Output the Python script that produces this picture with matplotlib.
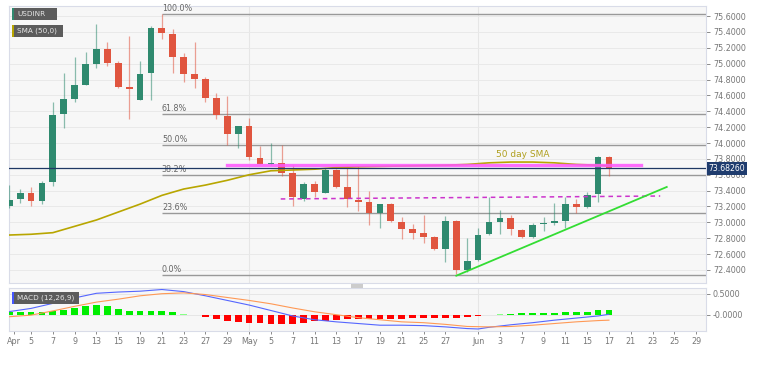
import numpy as np
import matplotlib.pyplot as plt
from matplotlib.patches import Rectangle

# USD/INR daily candles, 1 Apr - 17 Jun (weekdays only)
opens = [73.206, 73.294, 73.370, 73.269, 73.509, 74.365, 74.554, 74.731, 74.995, 75.184,
         75.008, 74.706, 74.542, 74.882, 75.449, 75.373, 75.083, 74.869, 74.806, 74.567,
         74.340, 74.113, 74.214, 73.811, 73.735, 73.748, 73.622, 73.294, 73.484, 73.370,
         73.660, 73.446, 73.282, 73.257, 73.118, 73.231, 73.005, 72.917, 72.866, 72.816,
         72.665, 73.017, 72.400, 72.526, 72.854, 73.005, 73.055, 72.904, 72.816, 72.980,
         72.992, 73.017, 73.231, 73.194, 73.357, 73.824]
highs = [73.471, 73.420, 73.446, 73.521, 74.517, 74.882, 75.083, 75.146, 75.499, 75.272,
         75.033, 75.348, 75.033, 75.474, 75.625, 75.436, 75.134, 75.272, 74.831, 74.630,
         74.592, 74.214, 74.315, 73.962, 74.000, 73.975, 73.723, 73.509, 73.521, 73.685,
         73.672, 73.710, 73.710, 73.395, 73.231, 73.244, 73.068, 72.980, 73.093, 72.829,
         73.080, 73.030, 72.803, 72.929, 73.320, 73.156, 73.093, 72.917, 72.992, 73.068,
         73.244, 73.320, 73.294, 73.383, 73.836, 73.836]
lows = [73.181, 73.244, 73.206, 73.231, 73.458, 74.189, 74.517, 74.731, 74.945, 74.970,
        74.693, 74.302, 74.542, 74.542, 75.310, 74.882, 74.768, 74.693, 74.517, 74.302,
        73.975, 73.937, 73.786, 73.735, 73.723, 73.584, 73.206, 73.269, 73.320, 73.370,
        73.433, 73.194, 73.143, 72.967, 72.929, 73.005, 72.790, 72.790, 72.740, 72.652,
        72.501, 72.350, 72.375, 72.513, 72.841, 72.854, 72.841, 72.803, 72.803, 72.891,
        72.967, 72.929, 73.118, 73.181, 73.257, 73.584]
closes = [73.282, 73.370, 73.269, 73.496, 74.353, 74.554, 74.731, 74.995, 75.184, 75.008,
          74.706, 74.680, 74.869, 75.449, 75.386, 75.083, 74.869, 74.806, 74.567, 74.353,
          74.113, 74.214, 73.824, 73.735, 73.748, 73.622, 73.320, 73.484, 73.383, 73.660,
          73.446, 73.294, 73.257, 73.118, 73.231, 73.017, 72.917, 72.866, 72.816, 72.665,
          73.017, 72.400, 72.513, 72.841, 73.005, 73.055, 72.917, 72.816, 72.967, 72.992,
          73.017, 73.231, 73.194, 73.345, 73.824, 73.683]

# 50 day SMA
sma_idx = [-0.1, 2, 4, 6, 8, 10, 12, 14, 16, 18, 20, 22, 24, 26, 28, 30, 32, 34, 36,
           38, 40, 42, 44, 46, 48, 50, 52, 54, 55]
sma_val = [72.84, 72.85, 72.87, 72.95, 73.03, 73.13, 73.23, 73.34, 73.42, 73.47, 73.53,
           73.60, 73.65, 73.66, 73.67, 73.69, 73.70, 73.705, 73.71, 73.715, 73.72, 73.73,
           73.75, 73.76, 73.76, 73.75, 73.73, 73.72, 73.71]

# MACD (12,26,9)
hist_val = [0.06, 0.06, 0.06, 0.06, 0.08, 0.12, 0.17, 0.20, 0.22, 0.20,
            0.14, 0.10, 0.08, 0.08, 0.08, 0.055, 0.015, -0.01, -0.05, -0.10,
            -0.15, -0.17, -0.19, -0.20, -0.21, -0.21, -0.21, -0.20, -0.16, -0.14,
            -0.12, -0.11, -0.11, -0.11, -0.11, -0.10, -0.10, -0.09, -0.085, -0.075,
            -0.07, -0.07, -0.055, -0.04, -0.01, 0.012, 0.025, 0.03, 0.04, 0.045,
            0.045, 0.06, 0.06, 0.075, 0.11, 0.12]
macd_idx = [-0.1, 2, 4, 6, 8, 10, 12, 14, 16, 18, 20, 22, 24, 26, 28, 30, 32, 34, 36,
            38, 40, 42, 43, 44, 46, 48, 50, 52, 54, 55]
macd_val = [0.07, 0.15, 0.27, 0.40, 0.51, 0.54, 0.56, 0.60, 0.55, 0.45, 0.34, 0.23, 0.10,
            -0.03, -0.12, -0.17, -0.21, -0.25, -0.25, -0.26, -0.29, -0.33, -0.34, -0.30,
            -0.24, -0.19, -0.13, -0.08, -0.03, 0.01]
sig_idx = [-0.1, 2, 4, 6, 8, 10, 12, 14, 16, 18, 20, 22, 24, 26, 28, 30, 32, 34, 36,
           38, 40, 42, 44, 46, 48, 50, 52, 54, 55]
sig_val = [-0.05, -0.01, 0.09, 0.20, 0.30, 0.37, 0.45, 0.50, 0.52, 0.48, 0.41, 0.34, 0.26,
           0.16, 0.07, 0.0, -0.07, -0.12, -0.17, -0.19, -0.23, -0.28, -0.29, -0.28, -0.25,
           -0.21, -0.17, -0.14, -0.13]

tick_pos = [0.45, 2, 4, 6, 8, 10, 12, 14, 16, 18, 20, 22, 24, 26, 28, 30, 32, 34, 36, 38, 40,
            43, 45, 47, 49, 51, 53, 55, 57, 59, 61, 63]
tick_lab = ["Apr", "5", "7", "9", "13", "15", "19", "21", "23", "27", "29", "May", "5", "7",
            "11", "13", "17", "19", "21", "25", "27", "Jun", "3", "7", "9", "11", "15", "17",
            "21", "23", "25", "29"]

fib_ratio = [0.0, 0.236, 0.382, 0.5, 0.618, 1.0]
fib_lab = ["0.0%", "23.6%", "38.2%", "50.0%", "61.8%", "100.0%"]
fib_hi, fib_lo = 75.625, 72.337
last_price = 73.6826

W, H = 766, 367
fig = plt.figure(figsize=(W / 100, H / 100), dpi=100)

def fx(x):
    return x / W

def fy(y):
    return 1 - y / H

ax = fig.add_axes([fx(9), fy(283), fx(706) - fx(9), fy(5.7) - fy(283)])
ax2 = fig.add_axes([fx(9), fy(331), fx(706) - fx(9), fy(288) - fy(331)])

bg = "#f7f7f7"
edge = "#d9dce8"
for a in (ax, ax2):
    a.set_facecolor(bg)
    for s in a.spines.values():
        s.set_color(edge)
        s.set_linewidth(0.8)
    a.set_xlim(-0.02, 63.9)
    a.yaxis.tick_right()
    a.tick_params(axis="y", labelsize=5.8, colors="#777777", length=3, width=0.6, pad=2)
    a.axvline(22, color="#e6e6e6", lw=0.8, zorder=0)
    a.axvline(43, color="#e6e6e6", lw=0.8, zorder=0)

# main panel
ax.set_ylim(72.236, 75.730)
yt = np.arange(72.4, 75.61, 0.2)
ax.set_yticks(yt)
ax.set_yticklabels(["%.4f" % v for v in yt])
for v in yt:
    ax.axhline(v, color="#e9e9e9", lw=0.7, zorder=0)
ax.set_xticks([])

x = np.arange(len(opens))
up_c, dn_c = "#2f8a6f", "#e0553f"
for i in x:
    o, h, l, c = opens[i], highs[i], lows[i], closes[i]
    col = up_c if c >= o else dn_c
    ax.vlines(i, l, h, color=col, lw=0.9, alpha=0.55, zorder=3)
    body = max(abs(c - o), 0.015)
    ax.bar(i, body, bottom=min(o, c), width=0.62, color=col, zorder=4)

# fibonacci retracement
for r, lab in zip(fib_ratio, fib_lab):
    lv = fib_lo + r * (fib_hi - fib_lo)
    ax.hlines(lv, 14, 63.9, color="#999999", lw=1.0, zorder=2)
    ax.text(14, lv + 0.012, lab, fontsize=5.8, color="#666666", va="bottom", ha="left")

ax.plot(sma_idx, sma_val, color="#b8a600", lw=1.2, zorder=5)
ax.text(47.1, 73.80, "50 day SMA", fontsize=6.5, color="#b0a020", ha="center", va="bottom")

ax.axhline(last_price, color="#1f3864", lw=0.9, zorder=5)
ax.plot([20, 57.9], [73.723, 73.723], color="#ff55ff", lw=2.4, alpha=0.85, zorder=6)
ax.plot([24.9, 59.7], [73.295, 73.332], color="#cc33cc", lw=1.1, ls=(0, (3, 2.5)), zorder=6)
ax.plot([41.0, 60.3], [72.328, 73.446], color="#33dd33", lw=1.3, zorder=6)

ax.text(1.004, (last_price - 72.236) / (75.730 - 72.236), "%.5f" % last_price,
        transform=ax.transAxes, fontsize=5.6, color="white", va="center", ha="left",
        bbox=dict(boxstyle="square,pad=0.25", fc="#1f3c6e", ec="none"), zorder=10)

# MACD panel
ax2.set_ylim(-0.388, 0.636)
ax2.set_yticks([0.5, 0.0])
ax2.set_yticklabels(["0.5000", "-0.0000"])
for v in (0.5, 0.0):
    ax2.axhline(v, color="#e6e6e6", lw=0.7, zorder=0)
hcol = []
for v in hist_val:
    if v >= 0:
        hcol.append("#00ee00" if v > 0.02 else "#88ff88")
    else:
        hcol.append("#ff0000" if v < -0.02 else "#ffaaaa")
ax2.bar(x, hist_val, width=0.62, color=hcol, zorder=3)
ax2.plot(macd_idx, macd_val, color="#5566ff", lw=0.8, zorder=4)
ax2.plot(sig_idx, sig_val, color="#ff9955", lw=0.8, zorder=4)
ax2.set_xticks(tick_pos)
ax2.set_xticklabels(tick_lab)
ax2.tick_params(axis="x", labelsize=5.8, colors="#777777", length=2.5, width=0.6, pad=2)

# legend boxes
def tag(x0, y0, x1, y1, text, stripe):
    fig.patches.append(Rectangle((fx(x0), fy(y1)), fx(x1) - fx(x0), fy(y0) - fy(y1),
                                 transform=fig.transFigure, fc="#5c5c5c", ec="none", zorder=20))
    fig.patches.append(Rectangle((fx(x0), fy(y1)), fx(2), fy(y0) - fy(y1),
                                 transform=fig.transFigure, fc=stripe, ec="none", zorder=21))
    fig.text(fx(x0 + 5), fy((y0 + y1) / 2), text, fontsize=5.2, color="#e8e8e8",
             va="center", ha="left", zorder=22)

tag(12, 8, 57, 20, "USDINR", "#2f8a6f")
tag(12, 25, 63, 37, "SMA (50,0)", "#b8a600")
tag(12, 292, 79, 304, "MACD (12,26,9)", "#4455ff")

fig.patches.append(Rectangle((fx(351), fy(288)), fx(12), fy(284) - fy(288),
                             transform=fig.transFigure, fc="#cccccc", ec="none"))

fig.savefig("out.png", dpi=100)
